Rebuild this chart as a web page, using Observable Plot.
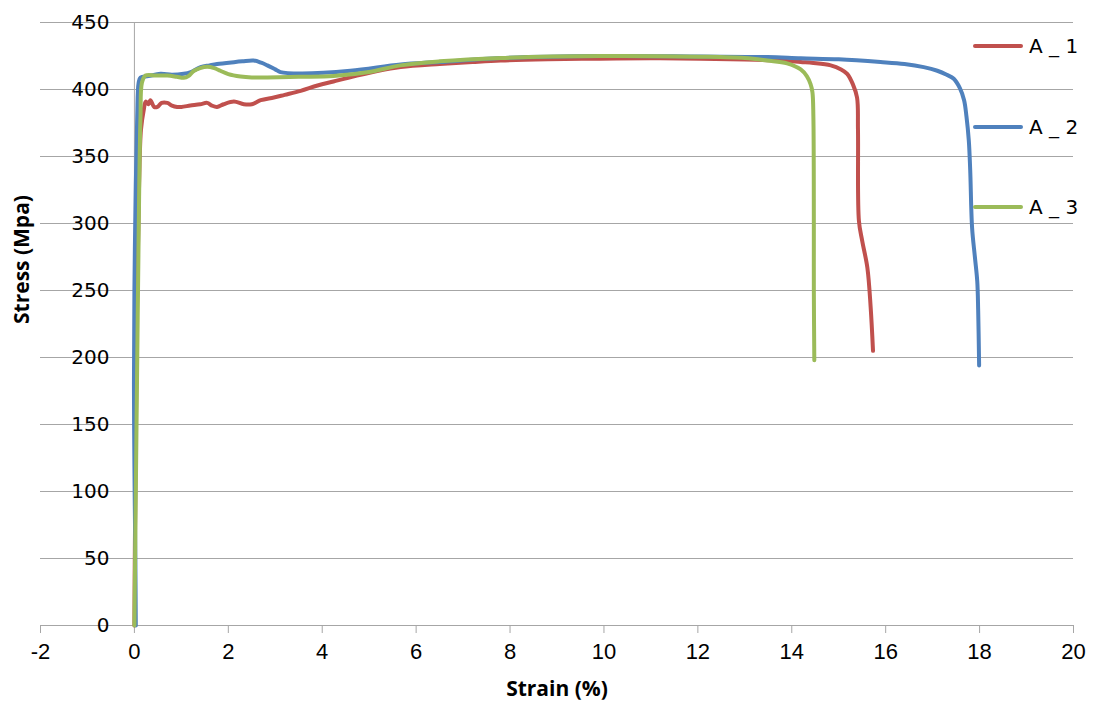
<!DOCTYPE html>
<html><head><meta charset="utf-8">
<script src="https://cdn.jsdelivr.net/npm/d3@7"></script>
<script src="https://cdn.jsdelivr.net/npm/@observablehq/plot@0.6"></script>
<style>
body{margin:0;background:#fff;}
#wrap{position:relative;width:1094px;height:706px;background:#fff;}
#legend{position:absolute;left:0;top:0;font-family:"DejaVu Sans",sans-serif;font-size:20px;color:#000;}
.item{position:absolute;display:flex;align-items:center;white-space:nowrap;height:24px;}
.sw{width:50px;height:4px;margin-right:6px;border-radius:2px;}
</style></head>
<body><div id="wrap"><div id="chart"></div><div id="legend"></div></div>
<script>
const seriesNames = ["A _ 1", "A _ 2", "A _ 3"];
const seriesColors = ["#C0504D", "#4F81BD", "#9BBB59"];

const strainA1 = [0, 0.01, 0.03, 0.06, 0.1, 0.14, 0.2, 0.24, 0.3, 0.34, 0.42, 0.49, 0.58, 0.7, 0.8, 0.91, 1.0, 1.19, 1.4, 1.55, 1.65, 1.76, 1.9, 2.12, 2.33, 2.5, 2.69, 2.97, 3.2, 3.54, 3.9, 4.24, 4.7, 5.2, 5.67, 6.5, 7.2, 7.8, 8.8, 9.9, 11, 12.06, 13, 13.76, 14.19, 14.46, 14.83, 15.05, 15.18, 15.3, 15.39, 15.41, 15.43, 15.5, 15.61, 15.68, 15.73];
const stressA1 = [0, 60, 140, 250, 330, 370, 385, 391, 389, 392, 387, 387, 390, 390, 388, 387, 387, 388, 389, 390, 388, 387, 389, 391, 389, 389, 392, 394, 396, 399, 403, 406, 410, 414, 416.7, 419, 420.5, 421.6, 422.5, 423, 423.3, 423, 422.3, 421.6, 420.5, 419.8, 418, 415, 411.7, 404, 394, 370, 302, 287, 267, 237.5, 205];

const strainA2 = [0.03, 0.02, 0.0, -0.01, 0.0, 0.03, 0.06, 0.09, 0.13, 0.3, 0.556, 0.8, 1.05, 1.2, 1.41, 1.6, 1.76, 2.12, 2.3, 2.54, 2.7, 2.83, 3.0, 3.11, 3.54, 4.6, 5.67, 6.5, 7.8, 9.93, 12.06, 13.48, 14.19, 15.0, 15.89, 16.4, 16.81, 17.1, 17.3, 17.45, 17.58, 17.67, 17.72, 17.77, 17.8, 17.84, 17.9, 17.95, 17.97, 17.99];
const stressA2 = [0, 50, 120, 180, 250, 330, 380, 405, 409, 410, 411.7, 411, 411.7, 413, 416.7, 418, 419, 420.4, 421, 421.6, 420, 418, 415, 413, 412, 414, 418.7, 420.5, 423.5, 425, 424.6, 424.2, 423.3, 422.5, 420.5, 419, 416.7, 414, 411, 408, 401, 392, 380, 362, 340, 297, 275, 257, 235, 194];

const strainA3 = [0, 0.03, 0.07, 0.1, 0.13, 0.16, 0.236, 0.45, 0.7, 0.9, 1.05, 1.15, 1.27, 1.4, 1.55, 1.7, 1.83, 2.0, 2.26, 2.5, 2.83, 3.5, 4.24, 5.0, 5.67, 6.5, 7.8, 9.93, 12.06, 13.0, 13.48, 13.9, 14.19, 14.32, 14.4, 14.44, 14.46, 14.47, 14.47, 14.48];
const stressA3 = [0, 100, 230, 320, 380, 405, 410.4, 410.5, 410.4, 409.5, 408.7, 410, 414, 416, 417, 416, 414, 411.5, 409.7, 409, 409, 409.5, 410, 413, 418, 421, 423.5, 425, 424.5, 423.5, 421.6, 419.5, 415, 410, 404, 398, 380, 300, 250, 198];

const xTicks = [-2, 0, 2, 4, 6, 8, 10, 12, 14, 16, 18, 20];
const yTicks = [0, 50, 100, 150, 200, 250, 300, 350, 400, 450];
const xTitle = "Strain (%)";
const yTitle = "Stress (Mpa)";

const seriesData = [
  strainA1.map((s, i) => ({strain: s, stress: stressA1[i]})),
  strainA2.map((s, i) => ({strain: s, stress: stressA2[i]})),
  strainA3.map((s, i) => ({strain: s, stress: stressA3[i]}))
];

const grid = "#a6a6a6";
const chart = Plot.plot({
  width: 1094, height: 706,
  marginLeft: 40, marginRight: 21, marginTop: 22, marginBottom: 81,
  style: {background: "#fff", color: "#000", fontFamily: "'DejaVu Sans', sans-serif", fontSize: "20px"},
  x: {domain: [-2, 20], axis: null},
  y: {domain: [0, 450], axis: null},
  marks: [
    Plot.gridY(yTicks, {stroke: grid, strokeOpacity: 1, strokeWidth: 1}),
    Plot.ruleX([0], {stroke: grid, strokeWidth: 1}),
    Plot.ruleY([0], {stroke: grid, strokeWidth: 1}),
    Plot.axisX(xTicks, {tickSize: 8, tickPadding: 10, stroke: grid, fill: "#000", label: null,
      fontFamily: "'Liberation Sans Narrow', 'Liberation Sans', sans-serif", fontSize: 22, tickFormat: d => String(d)}),
    Plot.text(yTicks, {x: 0, y: d => d, dx: -25, textAnchor: "end", fill: "#000",
      fontFamily: "'DejaVu Sans', sans-serif", fontSize: 20, text: d => String(d)}),
    ...seriesData.map((d, i) => Plot.line(d, {x: "strain", y: "stress", stroke: seriesColors[i], strokeWidth: 4, curve: "catmull-rom", strokeLinejoin: "round", strokeLinecap: "round"})),
    Plot.text([xTitle], {frameAnchor: "bottom", dy: 70, fontWeight: "bold", fontSize: 21, fontFamily: "'Open Sans', sans-serif", fill: "#000"}),
    Plot.text([yTitle], {frameAnchor: "left", dx: -18, rotate: -90, fontWeight: "bold", fontSize: 21, fontFamily: "'Open Sans', sans-serif", fill: "#000"})
  ]
});
document.getElementById("chart").appendChild(chart);

const legendTops = [46, 127, 207];
const legend = document.getElementById("legend");
seriesNames.forEach((name, i) => {
  const item = document.createElement("div");
  item.className = "item";
  item.style.left = "973px";
  item.style.top = (legendTops[i] - 12) + "px";
  item.innerHTML = `<div class="sw" style="background:${seriesColors[i]}"></div><span>${name}</span>`;
  legend.appendChild(item);
});
</script>
</body></html>
